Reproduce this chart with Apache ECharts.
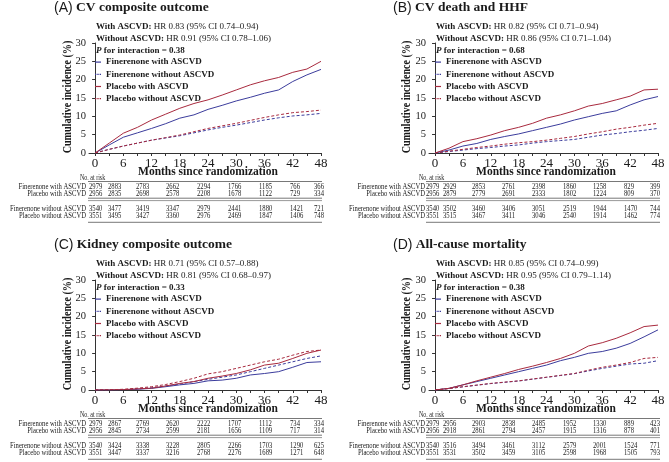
<!DOCTYPE html>
<html><head><meta charset="utf-8">
<script src="https://cdn.jsdelivr.net/npm/echarts@6/dist/echarts.min.js"></script>
<style>html,body{margin:0;padding:0;background:#fff}#c{width:669px;height:462px}</style>
</head><body><div id="c"></div>
<script>
// ---------- data ----------
const months = [0,3,6,9,12,15,18,21,24,27,30,33,36,39,42,45,48];
const xTickLabels = [0,6,12,18,24,30,36,42,48];
const xTickMarks = [0,3,6,9,12,15,18,21,24,27,30,33,36,39,42,45,48];
const seriesNames = ['Finerenone with ASCVD','Finerenone without ASCVD','Placebo with ASCVD','Placebo without ASCVD'];
const panelLetters = ['(A)','(B)','(C)','(D)'];
const panelTitles = ['CV composite outcome','CV death and HHF','Kidney composite outcome','All-cause mortality'];
const hrWith = ['HR 0.83 (95% CI 0.74–0.94)','HR 0.82 (95% CI 0.71–0.94)','HR 0.71 (95% CI 0.57–0.88)','HR 0.85 (95% CI 0.74–0.99)'];
const hrWithout = ['HR 0.91 (95% CI 0.78–1.06)','HR 0.86 (95% CI 0.71–1.04)','HR 0.81 (95% CI 0.68–0.97)','HR 0.95 (95% CI 0.79–1.14)'];
const pInteraction = ['0.38','0.68','0.33','0.38'];

// Panel A: CV composite outcome
const aFinWith    = [0,2.2,4.3,5.5,6.7,8.0,9.5,10.4,11.9,13.0,14.2,15.2,16.3,17.2,19.5,21.3,22.8];
const aFinWithout = [0,1.0,1.9,2.7,3.5,4.1,4.7,5.5,6.3,7.0,7.6,8.3,9.0,9.6,10.1,10.4,10.8];
const aPlaWith    = [0,2.7,5.4,7.0,9.0,10.6,12.2,13.5,14.5,15.8,17.2,18.6,19.7,20.6,22.0,22.9,25.0];
const aPlaWithout = [0,1.0,1.9,2.7,3.5,4.2,4.9,5.8,6.7,7.4,8.1,8.9,9.7,10.4,11.0,11.3,11.7];
// Panel B: CV death and HHF
const bFinWith    = [0,0.8,1.9,2.6,3.7,4.5,5.2,6.1,7.0,7.9,9.0,9.9,10.8,11.5,13.1,14.5,15.4];
const bFinWithout = [0,0.4,0.8,1.2,1.5,1.9,2.2,2.7,3.1,3.4,3.7,4.3,4.9,5.3,5.8,6.2,6.7];
const bPlaWith    = [0,1.3,3.1,3.9,4.9,6.1,7.0,8.1,9.5,10.4,11.5,12.8,13.5,14.5,15.5,17.2,17.4];
const bPlaWithout = [0,0.5,1.0,1.5,1.9,2.4,2.8,3.1,3.5,4.0,4.5,5.2,5.8,6.5,7.0,7.6,8.1];
// Panel C: Kidney composite outcome
const cFinWith    = [0,0.02,0.1,0.2,0.45,0.9,1.4,1.8,2.5,2.7,3.2,4.1,4.5,5.0,6.2,7.5,7.7];
const cFinWithout = [0,0.03,0.1,0.3,0.6,1.1,1.6,2.3,2.9,3.5,4.1,5.0,5.9,6.8,7.7,8.6,9.3];
const cPlaWith    = [0,0.03,0.1,0.3,0.5,1.1,1.8,2.3,3.2,3.8,4.5,5.5,6.8,7.3,8.6,10.0,10.9];
const cPlaWithout = [0,0.05,0.2,0.5,0.9,1.5,2.3,3.2,4.4,5.0,5.9,6.8,7.7,8.4,9.5,10.5,10.9];
// Panel D: All-cause mortality
const dFinWith    = [0,0.45,1.4,2.3,3.2,4.1,5.0,5.9,6.8,8.0,8.9,10.0,10.5,11.4,12.7,14.5,16.4];
const dFinWithout = [0,0.4,0.85,1.3,1.75,2.1,2.45,2.95,3.45,3.95,4.45,5.2,5.9,6.5,7.1,7.3,8.0];
const dPlaWith    = [0,0.45,1.4,2.5,3.5,4.5,5.6,6.5,7.5,8.6,10.0,12.0,12.9,14.1,15.6,17.3,17.7];
const dPlaWithout = [0,0.4,0.9,1.35,1.8,2.15,2.5,3.0,3.5,4.0,4.5,5.4,6.2,6.8,7.5,8.6,8.9];

// Numbers at risk
const riskRowLabels = ['Finerenone with ASCVD','Placebo with ASCVD','Finerenone without ASCVD','Placebo without ASCVD'];
const riskA = [
  [2979,2883,2783,2662,2294,1766,1185,766,366],
  [2956,2835,2698,2578,2208,1678,1122,729,334],
  [3540,3477,3419,3347,2979,2441,1880,1421,721],
  [3551,3495,3427,3360,2976,2469,1847,1406,748]];
const riskB = [
  [2979,2929,2853,2761,2398,1860,1258,829,399],
  [2956,2879,2779,2691,2333,1802,1224,809,370],
  [3540,3502,3460,3406,3051,2519,1944,1470,744],
  [3551,3515,3467,3411,3046,2540,1914,1462,774]];
const riskC = [
  [2979,2867,2769,2620,2222,1707,1112,734,334],
  [2956,2845,2734,2599,2181,1656,1109,717,314],
  [3540,3424,3338,3228,2805,2266,1703,1290,625],
  [3551,3447,3337,3216,2768,2276,1689,1271,648]];
const riskD = [
  [2979,2956,2903,2838,2485,1952,1330,889,423],
  [2956,2918,2861,2794,2457,1915,1316,878,401],
  [3540,3516,3494,3461,3112,2579,2001,1524,771],
  [3551,3531,3502,3459,3105,2598,1968,1505,793]];

// ---------- layout / style ----------
const panelData = [
  [aFinWith,aFinWithout,aPlaWith,aPlaWithout],
  [bFinWith,bFinWithout,bPlaWith,bPlaWithout],
  [cFinWith,cFinWithout,cPlaWith,cPlaWithout],
  [dFinWith,dFinWithout,dPlaWith,dPlaWithout]];
const panelRisk = [riskA,riskB,riskC,riskD];
const offsets = [[0,0],[339,0],[0,237],[339,237]];
const colLeftL = [89,108,136,166,197,228,259,290,314];
const colLeftR = [87,104,133,163,193,224,254,285,311];
const SERIF = '"Liberation Serif","DejaVu Serif",serif';
const SANS = '"Liberation Sans","DejaVu Sans",sans-serif';
const BLUE = '#3b3c9c', RED = '#a82a3e', INK = '#1a1a1a', AX = '#333';
const seriesColor = [BLUE, BLUE, RED, RED];
const seriesDashed = [false, true, false, true];
const ICON_SOLID = 'path://M0,0h7v1h-7z';
const ICON_DASH = 'path://M0,0h1.6v1h-1.6zM2.7,0h1.6v1h-1.6zM5.4,0h1.6v1h-1.6z';

const grids=[], xAxes=[], yAxes=[], series=[], legends=[], graphics=[];

offsets.forEach(([ox,oy],p)=>{
  const right = ox>0;
  grids.push({left: ox + (right?90:89), top: oy+43, width: right?229:232, height: 110});
  xAxes.push({gridIndex:p, type:'value', min:-1.3, max:48,
    axisLine:{show:true, lineStyle:{color:AX,width:1}},
    axisTick:{show:true, customValues:xTickMarks, length:3, lineStyle:{color:AX}},
    axisLabel:{customValues:xTickLabels, fontFamily:SERIF, fontSize:13, color:INK, margin:4},
    splitLine:{show:false}});
  yAxes.push({gridIndex:p, type:'value', min:0, max:30, interval:5,
    axisLine:{show:true, lineStyle:{color:AX,width:1}},
    axisTick:{show:true, length:3, lineStyle:{color:AX}},
    axisLabel:{fontFamily:SERIF, fontSize:10.5, color:INK, margin:3},
    splitLine:{show:false}});
  panelData[p].forEach((vals,i)=>{
    series.push({type:'line', name:seriesNames[i], xAxisIndex:p, yAxisIndex:p,
      symbol:'none', silent:true, z: i>=2?3:2,
      lineStyle:{color:seriesColor[i], width:1, type: seriesDashed[i]?[3,2]:'solid'},
      itemStyle:{color:seriesColor[i]},
      data: months.map((m,k)=>[m, vals[k]])});
  });
  legends.push({orient:'vertical', left: ox+(right?96:95), top: oy+56, itemWidth:6, itemHeight:1.2, itemGap:0,
    selectedMode:false, padding:0, symbolKeepAspect:false,
    textStyle:{fontFamily:SERIF, fontSize:9, fontWeight:'bold', color:INK, lineHeight:12.2},
    data: seriesNames.map((n,i)=>({name:n, icon: seriesDashed[i]?ICON_DASH:ICON_SOLID,
      itemStyle:{color:seriesColor[i], borderWidth:0}}))});

  // title
  graphics.push({type:'text', left: ox+54, top: oy+1, style:{
    text:'{s|'+panelLetters[p]+'}{t| '+panelTitles[p]+'}',
    rich:{s:{fontFamily:SANS,fontSize:14,fill:INK}, t:{fontFamily:SERIF,fontSize:13.5,fontWeight:'bold',fill:INK}}}});
  // HR annotations
  const rich = {b:{fontFamily:SERIF,fontSize:9,fontWeight:'bold',fill:INK},
                r:{fontFamily:SERIF,fontSize:9,fill:INK},
                bi:{fontFamily:SERIF,fontSize:9,fontWeight:'bold',fontStyle:'italic',fill:INK}};
  const ax = ox + (right?97:96);
  graphics.push({type:'text', x:ax, y:oy+26.7, style:{text:'{b|With ASCVD:}{r| '+hrWith[p]+'}', rich, verticalAlign:'middle'}});
  graphics.push({type:'text', x:ax, y:oy+38.6, style:{text:'{b|Without ASCVD:}{r| '+hrWithout[p]+'}', rich, verticalAlign:'middle'}});
  graphics.push({type:'text', x:ax, y:oy+50.3, style:{text:'{bi|P}{b| for interaction = '+pInteraction[p]+'}', rich, verticalAlign:'middle'}});
  // y axis title
  graphics.push({type:'text', x: ox+68, y: oy+97, rotation: Math.PI/2, scaleX:0.84,
    style:{text:'Cumulative incidence (%)', fontFamily:SERIF, fontSize:12, fontWeight:'bold', fill:INK, align:'center', verticalAlign:'middle'}});
  // x axis title
  graphics.push({type:'text', x: ox+(right?207:208), y: oy+171.8,
    style:{text:'Months since randomization', fontFamily:SERIF, fontSize:11.5, fontWeight:'bold', fill:INK, align:'center', verticalAlign:'middle'}});
  // risk table
  const cols = right?colLeftR:colLeftL;
  const SX = 0.8;
  graphics.push({type:'text', x: ox+80, y: oy+178, scaleX:SX, style:{text:'No. at risk', fontFamily:SERIF, fontSize:7.5, fill:INK, verticalAlign:'middle'}});
  const rowY = [186.5,194,208.5,216.3];
  const lineX1 = ox+(right?87:88), lineX2 = ox+(right?321:322);
  const hl = (y,color,w)=>({type:'line', shape:{x1:lineX1,y1:oy+y,x2:lineX2,y2:oy+y}, style:{stroke:color,lineWidth:w}, silent:true});
  graphics.push(hl(181.5,'#555',0.8));
  graphics.push(hl(198.2,'#777',1));
  graphics.push(hl(200.6,'#999',1));
  graphics.push(hl(222.3,'#555',0.8));
  riskRowLabels.forEach((lab,r)=>{
    graphics.push({type:'text', x: ox+86, y: oy+rowY[r], scaleX:SX, style:{text:lab, fontFamily:SERIF, fontSize:8.3, fill:INK, align:'right', verticalAlign:'middle'}});
    panelRisk[p][r].forEach((n,c)=>{
      graphics.push({type:'text', x: ox+cols[c], y: oy+rowY[r], scaleX:SX, style:{text:String(n), fontFamily:SERIF, fontSize:8.3, fill:INK, align:'left', verticalAlign:'middle'}});
    });
  });
});

const chart = echarts.init(document.getElementById('c'), null, {renderer:'canvas'});
chart.setOption({
  animation:false, backgroundColor:'#fff',
  grid:grids, xAxis:xAxes, yAxis:yAxes, series, legend:legends,
  graphic:{elements:graphics}
});
</script></body></html>
